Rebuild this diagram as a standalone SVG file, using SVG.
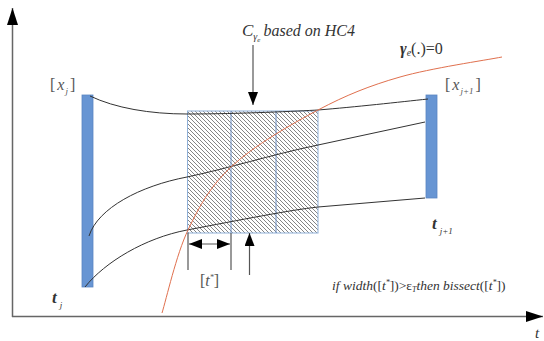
<svg xmlns="http://www.w3.org/2000/svg" width="544" height="341" viewBox="0 0 544 341">
<style>
.ax{stroke:#666;stroke-width:1.5;fill:none}
.cv{stroke:#333;stroke-width:1;fill:none}
.red{stroke:#e0704e;stroke-width:1;fill:none}
.bar{fill:#6795d3;stroke:#5a86c2;stroke-width:0.8}
.tk{stroke:#555;stroke-width:1.2;fill:none}
.t{font-family:"Liberation Serif",serif;font-style:italic;fill:#333}
.g{fill:#555}
</style>
<defs>
<marker id="big" viewBox="0 0 17 11" refX="17" refY="5.5" markerWidth="17" markerHeight="11" markerUnits="userSpaceOnUse" orient="auto-start-reverse"><path d="M0,0 L17,5.5 L0,11 z" fill="#000"/></marker>
<marker id="ah" viewBox="0 0 13 10" refX="13" refY="5" markerWidth="13" markerHeight="10" markerUnits="userSpaceOnUse" orient="auto-start-reverse"><path d="M0,0 L13,5 L0,10 z" fill="#000"/></marker>
<pattern id="hatch" patternUnits="userSpaceOnUse" width="4" height="4"><path d="M-1,-1 L5,5 M-1,3 L1,5 M3,-1 L5,1" stroke="#666" stroke-width="0.8"/></pattern>
</defs>
<g id="axes">
<line class="ax" x1="12.5" y1="317" x2="12.5" y2="8" marker-end="url(#big)"/>
<line class="ax" x1="12" y1="316.5" x2="543" y2="316.5" marker-end="url(#big)"/>
<text class="t" x="535" y="338" font-size="15">t</text>
</g>
<g id="box">
<rect x="187.5" y="111" width="130.5" height="122" fill="url(#hatch)" stroke="#8fb0d8" stroke-width="1"/>
<line x1="231" y1="111" x2="231" y2="233" stroke="#6f90c4" stroke-width="1"/>
<line x1="276" y1="111" x2="276" y2="233" stroke="#6f90c4" stroke-width="1"/>
</g>
<g id="bar-left"><rect class="bar" x="82" y="95" width="11" height="192"/></g>
<g id="bar-right"><rect class="bar" x="426" y="95" width="11" height="103"/></g>
<g id="connectors">
<path class="cv" d="M90 96 C115 108,150 114,187 114 C240 114,300 111,318 110 C355 107,400 102,428 99"/>
<path class="cv" d="M89 236 C98 208,140 186,187 177 C230 168,270 155,318 145 L425 122"/>
<path class="cv" d="M85 287 C105 262,145 238,187 230 C240 220,290 210,318 207 L425 198"/>
<path class="red" d="M162 313 C166.3 299.2,176.3 254.5,188 230 C199.7 205.5,210.3 186,232 166 C253.7 146,290 124.8,318 110 C346 95.2,369.3 85.8,400 77 C430.7 68.2,485 60.3,502 57"/>
<line class="tk" x1="253" y1="45" x2="253" y2="105" marker-end="url(#ah)"/>
<line class="tk" x1="188" y1="233" x2="188" y2="270"/>
<line class="tk" x1="231" y1="233" x2="231" y2="270"/>
<line class="tk" x1="189" y1="244" x2="230" y2="244" marker-start="url(#ah)" marker-end="url(#ah)"/>
<line class="tk" x1="249.5" y1="275" x2="249.5" y2="233" marker-end="url(#ah)"/>
</g>
<g id="labels">
<text class="t" x="242" y="36" font-size="17">C<tspan font-size="10" dy="4">γ</tspan><tspan font-size="7" dy="2">e</tspan><tspan font-size="16" dy="-6" dx="3">based on HC4</tspan></text>
<text class="t" x="400" y="54" font-size="16" font-weight="bold" font-style="normal">γ<tspan font-size="10" font-style="italic" font-weight="normal" dy="2">e</tspan><tspan font-weight="normal" font-style="normal" dy="-2">(.)=0</tspan></text>
<text class="t g" x="50" y="90" font-size="16"><tspan font-style="normal">[</tspan><tspan dx="2">x</tspan><tspan font-size="9" dy="4" dx="1">j</tspan><tspan font-style="normal" dy="-4" dx="2">]</tspan></text>
<text class="t g" x="445" y="90" font-size="16"><tspan font-style="normal">[</tspan><tspan dx="2">x</tspan><tspan font-size="9" dy="4" dx="1">j+1</tspan><tspan font-style="normal" dy="-4" dx="2">]</tspan></text>
<text class="t" x="52" y="303" font-size="17" font-weight="bold">t<tspan font-size="9" font-weight="normal" dy="5" dx="3">j</tspan></text>
<text class="t" x="432" y="229" font-size="17" font-weight="bold">t<tspan font-size="9" font-weight="normal" dy="5" dx="3">j+1</tspan></text>
<text class="t g" x="200" y="286" font-size="16"><tspan font-style="normal">[</tspan>t<tspan font-size="8" dy="-6">*</tspan><tspan font-style="normal" dy="6">]</tspan></text>
<text class="t" x="332" y="290" font-size="13.5">if width<tspan font-style="normal">([</tspan>t<tspan font-size="8" dy="-5">*</tspan><tspan font-style="normal" dy="5">])&gt;ε</tspan><tspan font-size="8" dy="2">T</tspan><tspan dy="-2">then bissect</tspan><tspan font-style="normal">([</tspan>t<tspan font-size="8" dy="-5">*</tspan><tspan font-style="normal" dy="5">])</tspan></text>
</g>
</svg>
